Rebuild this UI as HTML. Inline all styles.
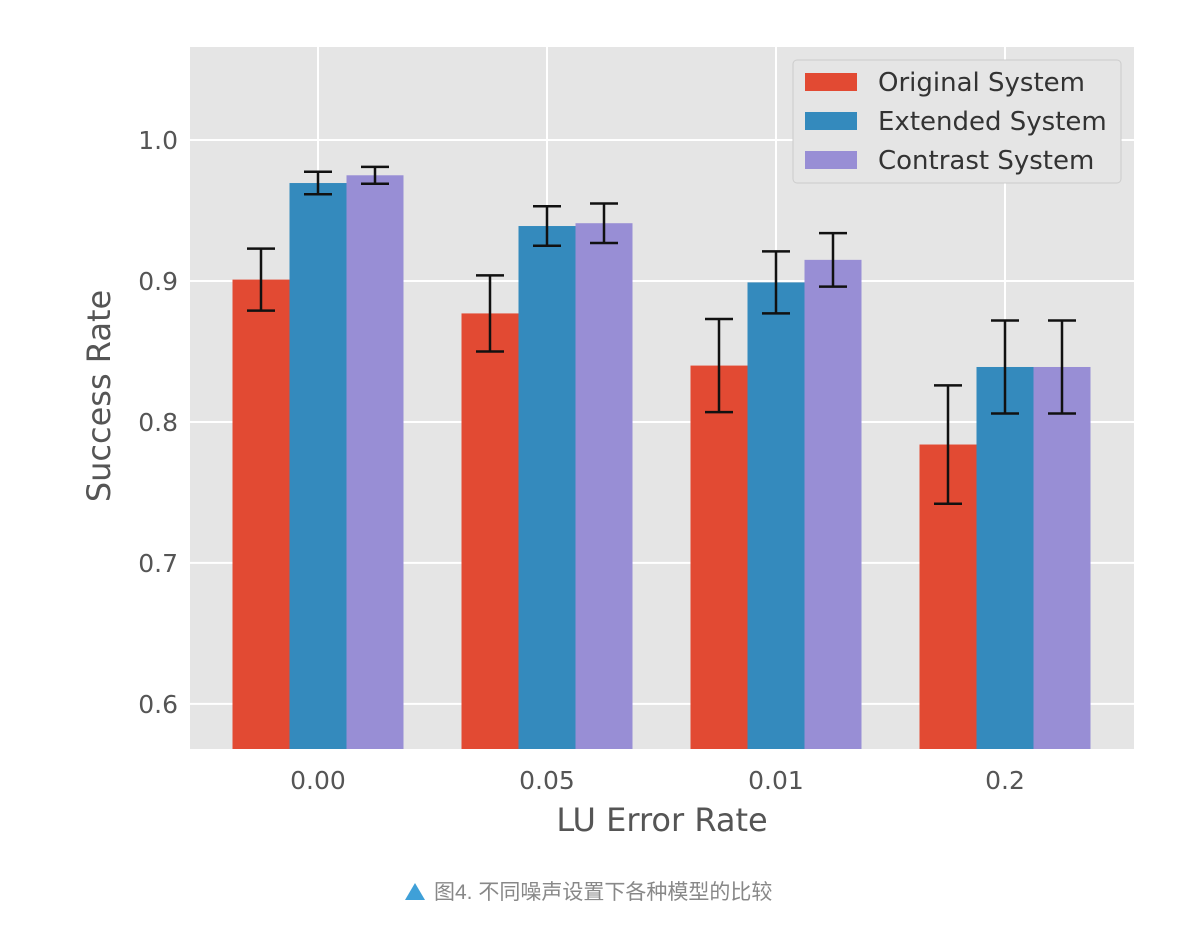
<!DOCTYPE html>
<html><head><meta charset="utf-8"><style>
body{margin:0;background:#fff;width:1198px;height:920px;overflow:hidden;font-family:"Liberation Sans","Noto Sans CJK SC",sans-serif}
</style></head><body>
<svg id="chart" width="1198" height="920" xmlns="http://www.w3.org/2000/svg" font-family="DejaVu Sans, sans-serif">
<rect x="190" y="47" width="944" height="702" fill="#E5E5E5"/>
<g id="grid"></g><g id="bars"></g><g id="ticks"></g>
<text transform="translate(110,396) rotate(-90)" text-anchor="middle" font-size="32" fill="#555">Success Rate</text>
<text x="662" y="831" text-anchor="middle" font-size="32" fill="#555">LU Error Rate</text>
<g>
<rect x="793" y="60" width="328" height="123" rx="4" fill="#E5E5E5" stroke="#ccc"/>
<rect x="805" y="73" width="52" height="18" fill="#E24A33"/>
<text x="878" y="91" font-size="26" fill="#333">Original System</text>
<rect x="805" y="112" width="52" height="18" fill="#348ABD"/>
<text x="878" y="130" font-size="26" fill="#333">Extended System</text>
<rect x="805" y="151" width="52" height="18" fill="#988ED5"/>
<text x="878" y="169" font-size="26" fill="#333">Contrast System</text>
</g>
<polygon points="405,900 425,900 415,883" fill="#3fa0d8"/>
<text x="434" y="899" font-size="21" fill="#888" font-family="Liberation Sans, Noto Sans CJK SC, sans-serif">图4. 不同噪声设置下各种模型的比较</text>
</svg>
<script>
const categories=["0.00","0.05","0.01","0.2"];
const originalVals=[0.901,0.877,0.840,0.784];
const extendedVals=[0.9695,0.939,0.899,0.839];
const contrastVals=[0.975,0.941,0.915,0.839];
const originalErr=[0.022,0.027,0.033,0.042];
const extendedErr=[0.008,0.014,0.022,0.033];
const contrastErr=[0.006,0.014,0.019,0.033];
const yTicks=[0.6,0.7,0.8,0.9,1.0];
const NS="http://www.w3.org/2000/svg";
const yMin=0.568,yMax=1.066,plotTop=47,plotBot=749;
function yPos(v){return plotBot-(v-yMin)/(yMax-yMin)*(plotBot-plotTop);}
function xPos(i){return 318+i*229;}
const bw=57;
function mk(t,a,p){const e=document.createElementNS(NS,t);for(const k in a)e.setAttribute(k,a[k]);p.appendChild(e);return e;}
const grid=document.getElementById('grid'),bars=document.getElementById('bars'),ticks=document.getElementById('ticks');
yTicks.forEach(t=>{
 const l=mk('line',{x1:190,x2:1134,y1:yPos(t),y2:yPos(t),stroke:'#fff','stroke-width':2},grid);
 
 
 const tx=mk('text',{x:178,y:yPos(t)+9,'text-anchor':'end','font-size':25,fill:'#555'},ticks);
 tx.textContent=t.toFixed(1);
 
 
});
categories.forEach((c,i)=>{
 const l=mk('line',{x1:xPos(i),x2:xPos(i),y1:plotTop,y2:plotBot,stroke:'#fff','stroke-width':2},grid);
 
 
 const tx=mk('text',{x:xPos(i),y:789,'text-anchor':'middle','font-size':25,fill:'#555'},ticks);
 tx.textContent=c;
 
 
});
const series=[[originalVals,originalErr,'#E24A33','original'],[extendedVals,extendedErr,'#348ABD','extended'],[contrastVals,contrastErr,'#988ED5','contrast']];
series.forEach((s,si)=>{
 s[0].forEach((v,i)=>{
  const cx=xPos(i)+(si-1)*bw;
  const r=mk('rect',{x:cx-bw/2,y:yPos(v),width:bw,height:plotBot-yPos(v),fill:s[2]},bars);
  
  
  const e=s[1][i];
  const g=mk('g',{stroke:'#111','stroke-width':2.5},bars);
  
  
  mk('line',{x1:cx,x2:cx,y1:yPos(v+e),y2:yPos(v-e)},g);
  mk('line',{x1:cx-14,x2:cx+14,y1:yPos(v+e),y2:yPos(v+e)},g);
  mk('line',{x1:cx-14,x2:cx+14,y1:yPos(v-e),y2:yPos(v-e)},g);
 });
});
</script>
</body></html>
